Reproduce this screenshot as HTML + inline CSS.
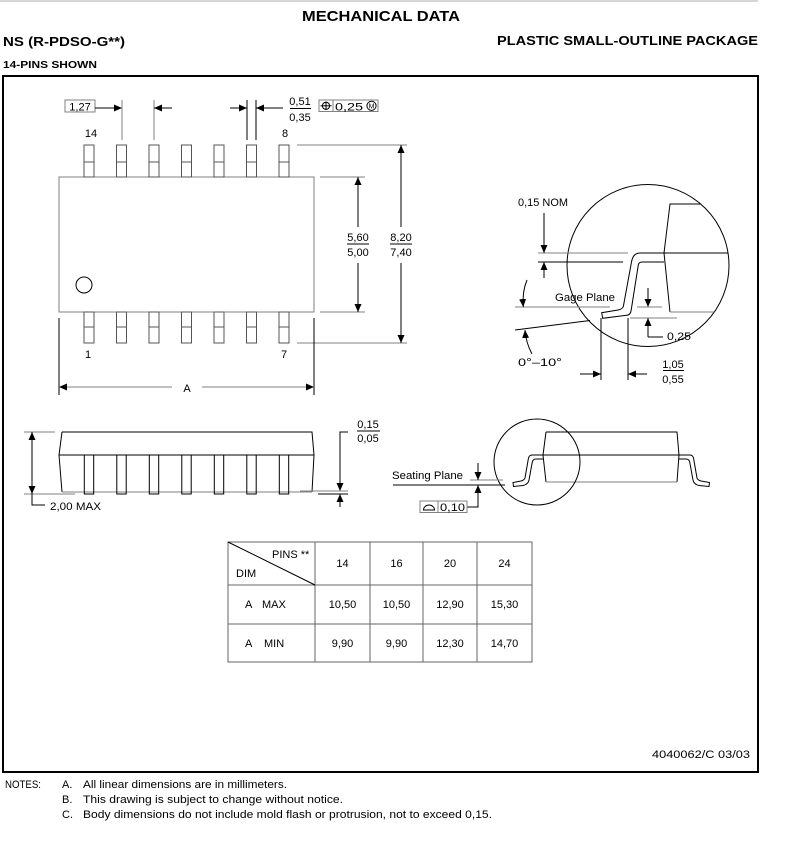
<!DOCTYPE html>
<html><head><meta charset="utf-8"><style>
html,body{margin:0;padding:0;background:#fff;}
svg{display:block;}
text{font-family:"Liberation Sans",sans-serif;font-size:11px;fill:#000;}
.g{stroke:#808080;fill:none;stroke-width:1;}
.k{stroke:#000;fill:none;stroke-width:1;}
.p{stroke:#555;fill:none;stroke-width:1;}
</style></head><body>
<svg width="794" height="854" viewBox="0 0 794 854" xmlns="http://www.w3.org/2000/svg">
<defs>
<marker id="a" markerUnits="userSpaceOnUse" markerWidth="9" markerHeight="8" refX="8" refY="3.5" orient="auto"><path d="M0,0 L8,3.5 L0,7 z" fill="#000"/></marker>
<clipPath id="c1"><circle cx="648" cy="265.5" r="81"/></clipPath>
</defs>
<rect width="794" height="854" fill="#fff"/>

<!-- header -->
<line x1="0" y1="1" x2="758" y2="1" stroke="#c8c8c8" stroke-width="1.5"/>
<text x="302" y="21" style="font-size:15px;font-weight:bold" textLength="158" lengthAdjust="spacingAndGlyphs">MECHANICAL DATA</text>
<text x="3" y="46" style="font-size:13px;font-weight:bold" textLength="122" lengthAdjust="spacingAndGlyphs">NS (R-PDSO-G**)</text>
<text x="497" y="45" style="font-size:13px;font-weight:bold" textLength="261" lengthAdjust="spacingAndGlyphs">PLASTIC SMALL-OUTLINE PACKAGE</text>
<text x="3" y="68" style="font-size:10px;font-weight:bold" textLength="94" lengthAdjust="spacingAndGlyphs">14-PINS SHOWN</text>

<!-- frame -->
<rect x="3" y="76" width="755" height="696" fill="none" stroke="#000" stroke-width="2"/>

<!-- TOP VIEW -->
<rect x="59" y="177" width="255" height="135" class="g"/>
<g class="p">
<rect x="84" y="145" width="10" height="32"/><line x1="84" y1="162" x2="94" y2="162"/>
<rect x="116.5" y="145" width="10" height="32"/><line x1="116.5" y1="162" x2="126.5" y2="162"/>
<rect x="149" y="145" width="10" height="32"/><line x1="149" y1="162" x2="159" y2="162"/>
<rect x="181.5" y="145" width="10" height="32"/><line x1="181.5" y1="162" x2="191.5" y2="162"/>
<rect x="214" y="145" width="10" height="32"/><line x1="214" y1="162" x2="224" y2="162"/>
<rect x="246.5" y="145" width="10" height="32"/><line x1="246.5" y1="162" x2="256.5" y2="162"/>
<rect x="279" y="145" width="10" height="32"/><line x1="279" y1="162" x2="289" y2="162"/>
<rect x="84" y="312" width="10" height="31"/><line x1="84" y1="327" x2="94" y2="327"/>
<rect x="116.5" y="312" width="10" height="31"/><line x1="116.5" y1="327" x2="126.5" y2="327"/>
<rect x="149" y="312" width="10" height="31"/><line x1="149" y1="327" x2="159" y2="327"/>
<rect x="181.5" y="312" width="10" height="31"/><line x1="181.5" y1="327" x2="191.5" y2="327"/>
<rect x="214" y="312" width="10" height="31"/><line x1="214" y1="327" x2="224" y2="327"/>
<rect x="246.5" y="312" width="10" height="31"/><line x1="246.5" y1="327" x2="256.5" y2="327"/>
<rect x="279" y="312" width="10" height="31"/><line x1="279" y1="327" x2="289" y2="327"/>
</g>
<circle cx="84" cy="285" r="8" class="k" stroke="#333"/>
<text x="91" y="137" text-anchor="middle">14</text>
<text x="285" y="137" text-anchor="middle">8</text>
<text x="88" y="358" text-anchor="middle">1</text>
<text x="284" y="358" text-anchor="middle">7</text>

<!-- 1,27 pitch -->
<rect x="65" y="100" width="30" height="12" class="g"/>
<text x="80" y="110.5" text-anchor="middle">1,27</text>
<line x1="95" y1="108" x2="122" y2="108" class="k" marker-end="url(#a)"/>
<line x1="122" y1="100" x2="122" y2="140" class="g"/>
<line x1="154" y1="100" x2="154" y2="140" class="g"/>
<line x1="172" y1="108" x2="154" y2="108" class="k" marker-end="url(#a)"/>
<line x1="247" y1="100" x2="247" y2="140" class="k"/>
<line x1="256" y1="100" x2="256" y2="140" class="k"/>
<line x1="230" y1="108" x2="247" y2="108" class="k" marker-end="url(#a)"/>
<line x1="283" y1="108" x2="256" y2="108" class="k" marker-end="url(#a)"/>
<text x="300" y="105" text-anchor="middle">0,51</text>
<line x1="290" y1="108.5" x2="311" y2="108.5" class="k"/>
<text x="300" y="121" text-anchor="middle">0,35</text>
<rect x="319" y="100" width="59" height="11.5" class="g"/>
<line x1="333" y1="100" x2="333" y2="111.5" class="g"/>
<circle cx="326" cy="105.8" r="3.6" class="k"/>
<line x1="320.5" y1="105.8" x2="331.5" y2="105.8" class="k"/>
<line x1="326" y1="101.5" x2="326" y2="110" class="k"/>
<text x="335" y="110.5" textLength="28" lengthAdjust="spacingAndGlyphs">0,25</text>
<circle cx="371.5" cy="105.8" r="4.6" class="k"/>
<text x="371.5" y="108.5" text-anchor="middle" style="font-size:7px">M</text>

<!-- right dims top view -->
<line x1="297" y1="145" x2="407" y2="145" class="g"/>
<line x1="297" y1="343" x2="407" y2="343" class="g"/>
<line x1="401" y1="227" x2="401" y2="145" class="k" marker-end="url(#a)"/>
<line x1="401" y1="263" x2="401" y2="343" class="k" marker-end="url(#a)"/>
<text x="401" y="241" text-anchor="middle">8,20</text>
<line x1="390" y1="244" x2="412" y2="244" class="k"/>
<text x="401" y="256" text-anchor="middle">7,40</text>
<line x1="320" y1="177" x2="365" y2="177" class="g"/>
<line x1="320" y1="312" x2="365" y2="312" class="g"/>
<line x1="358" y1="227" x2="358" y2="177" class="k" marker-end="url(#a)"/>
<line x1="358" y1="263" x2="358" y2="312" class="k" marker-end="url(#a)"/>
<text x="358" y="241" text-anchor="middle">5,60</text>
<line x1="347" y1="244" x2="369" y2="244" class="k"/>
<text x="358" y="256" text-anchor="middle">5,00</text>

<!-- A dim -->
<line x1="59" y1="318" x2="59" y2="395" class="k"/>
<line x1="314" y1="318" x2="314" y2="395" class="k"/>
<line x1="172" y1="387" x2="59" y2="387" class="g" marker-end="url(#a)"/>
<line x1="202" y1="387" x2="314" y2="387" class="g" marker-end="url(#a)"/>
<text x="187" y="392" text-anchor="middle">A</text>

<!-- DETAIL CIRCLE -->
<circle cx="648" cy="265.5" r="81" class="k"/>
<g clip-path="url(#c1)">
<path d="M705,204 L670,204 L664,253 L670,312" class="k"/>
<line x1="670" y1="312" x2="720" y2="312" class="g"/>
<line x1="640" y1="253" x2="730" y2="253" class="k" stroke="#444"/>
</g>
<line x1="538" y1="253" x2="628" y2="253" class="g"/>
<line x1="538" y1="262" x2="623" y2="262" class="k"/>
<path d="M640,253 Q633,253 631.5,262 L623.3,306.7 Q622,309.3 618,310 L601.7,312.7 L602.7,318.3 L626.7,315.3 Q630.5,315 631.2,310 L638.3,265 Q639,262 642,262 L664,262" class="k"/>
<line x1="544" y1="213" x2="544" y2="253" class="k" marker-end="url(#a)"/>
<line x1="544" y1="278" x2="544" y2="262" class="k" marker-end="url(#a)"/>
<text x="518" y="206" textLength="50" lengthAdjust="spacingAndGlyphs">0,15 NOM</text>
<line x1="515" y1="307" x2="610" y2="307" class="g"/>
<text x="555" y="301" textLength="60" lengthAdjust="spacingAndGlyphs">Gage Plane</text>
<line x1="515" y1="330" x2="590" y2="320.5" class="k"/>
<path d="M527,280 Q522,292 523.3,307" class="k" marker-end="url(#a)"/>
<path d="M532,354 Q526,343 525,330" class="k" marker-end="url(#a)"/>
<text x="518" y="366" textLength="44" lengthAdjust="spacingAndGlyphs">0°–10°</text>
<line x1="648" y1="288" x2="648" y2="307" class="k" marker-end="url(#a)"/>
<line x1="637" y1="307" x2="662" y2="307" class="g"/>
<line x1="630" y1="318" x2="677" y2="318" class="g"/>
<line x1="648" y1="337" x2="648" y2="318" class="k" marker-end="url(#a)"/>
<line x1="648" y1="337" x2="663" y2="337" class="k"/>
<text x="667" y="340" textLength="24" lengthAdjust="spacingAndGlyphs">0,25</text>
<line x1="601" y1="318" x2="601" y2="380" class="k"/>
<line x1="628" y1="318" x2="628" y2="380" class="k"/>
<line x1="580" y1="374" x2="601" y2="374" class="k" marker-end="url(#a)"/>
<line x1="647" y1="374" x2="628" y2="374" class="k" marker-end="url(#a)"/>
<text x="673" y="368" text-anchor="middle">1,05</text>
<line x1="663" y1="370.5" x2="684" y2="370.5" class="k"/>
<text x="673" y="383" text-anchor="middle">0,55</text>

<!-- SIDE VIEW -->
<path d="M62,432 L312,432 L314,455 L312,492 M62,432 L59,455 L62,492" class="k" stroke="#333"/>
<line x1="59" y1="455" x2="314" y2="455" class="k" stroke="#333"/>
<line x1="62" y1="492" x2="312" y2="492" class="g"/>
<g class="k">
<rect x="84.3" y="455" width="9.4" height="39"/>
<rect x="116.8" y="455" width="9.4" height="39"/>
<rect x="149.3" y="455" width="9.4" height="39"/>
<rect x="181.8" y="455" width="9.4" height="39"/>
<rect x="214.3" y="455" width="9.4" height="39"/>
<rect x="246.8" y="455" width="9.4" height="39"/>
<rect x="279.3" y="455" width="9.4" height="39"/>
</g>
<line x1="24" y1="432" x2="55" y2="432" class="g"/>
<line x1="24" y1="494" x2="75" y2="494" class="g"/>
<line x1="32" y1="463" x2="32" y2="432" class="k" marker-end="url(#a)"/>
<line x1="32" y1="463" x2="32" y2="494" class="k" marker-end="url(#a)"/>
<path d="M32,494 L32,505 L45,505" class="k"/>
<text x="50" y="510" textLength="51" lengthAdjust="spacingAndGlyphs">2,00 MAX</text>
<path d="M348,432 L340,432 L340,491" class="k" marker-end="url(#a)"/>
<line x1="300" y1="491" x2="348" y2="491" class="g"/>
<line x1="318" y1="494" x2="348" y2="494" class="k"/>
<line x1="340" y1="507" x2="340" y2="494" class="k" marker-end="url(#a)"/>
<text x="368" y="428" text-anchor="middle">0,15</text>
<line x1="357" y1="431" x2="380" y2="431" class="k"/>
<text x="368" y="442" text-anchor="middle">0,05</text>

<!-- SEATING PLANE DETAIL -->
<path d="M546,432 L677,432 L679,455 L677,482 M546,432 L543,455 L546,482" class="k"/>
<line x1="543" y1="455" x2="679" y2="455" class="k"/>
<line x1="546" y1="482" x2="677" y2="482" class="g"/>
<path d="M543,455 L532,455 Q529,455 528.3,459 L525,478 Q524.5,480 521,481 L513,482.5 L513.5,486.5 L523,485.5 Q528,484.5 529,480 L532.3,462 Q533,459 536,459 L543,459" class="k"/>
<path d="M679,455 L690,455 Q693,455 693.7,459 L697,478 Q697.5,480 701,481 L709.5,482.5 L709,486.5 L699,485.5 Q694,484.5 693,480 L689.7,462 Q689,459 686,459 L679,459" class="k"/>
<circle cx="537" cy="462" r="43" class="k"/>
<line x1="393" y1="485" x2="505" y2="485" class="k"/>
<line x1="470" y1="480" x2="503" y2="480" class="g"/>
<line x1="478" y1="463" x2="478" y2="480" class="k" marker-end="url(#a)"/>
<line x1="478" y1="502" x2="478" y2="485" class="k" marker-end="url(#a)"/>
<path d="M478,500 L478,507 L467,507" class="k"/>
<text x="392" y="479" textLength="71" lengthAdjust="spacingAndGlyphs">Seating Plane</text>
<rect x="420" y="501" width="47" height="11.5" class="g"/>
<line x1="438" y1="501" x2="438" y2="512.5" class="g"/>
<path d="M423,510 L435,510 M423.5,510 A5.5,5 0 0 1 434.5,510" class="k"/>
<text x="440" y="511" textLength="25" lengthAdjust="spacingAndGlyphs">0,10</text>

<!-- TABLE -->
<g stroke="#666" stroke-width="1" fill="none">
<rect x="228" y="542" width="304" height="120"/>
<line x1="228" y1="585" x2="532" y2="585"/>
<line x1="228" y1="624" x2="532" y2="624"/>
<line x1="315" y1="542" x2="315" y2="662"/>
<line x1="370" y1="542" x2="370" y2="662"/>
<line x1="423" y1="542" x2="423" y2="662"/>
<line x1="477" y1="542" x2="477" y2="662"/>
<line x1="228" y1="542" x2="315" y2="585" stroke="#000"/>
</g>
<text x="272" y="558">PINS **</text>
<text x="236" y="577">DIM</text>
<text x="342.5" y="567" text-anchor="middle">14</text>
<text x="396.5" y="567" text-anchor="middle">16</text>
<text x="450" y="567" text-anchor="middle">20</text>
<text x="504.5" y="567" text-anchor="middle">24</text>
<text x="245" y="608">A</text><text x="262" y="608">MAX</text>
<text x="342.5" y="608" text-anchor="middle">10,50</text>
<text x="396.5" y="608" text-anchor="middle">10,50</text>
<text x="450" y="608" text-anchor="middle">12,90</text>
<text x="504.5" y="608" text-anchor="middle">15,30</text>
<text x="245" y="647">A</text><text x="264" y="647">MIN</text>
<text x="342.5" y="647" text-anchor="middle">9,90</text>
<text x="396.5" y="647" text-anchor="middle">9,90</text>
<text x="450" y="647" text-anchor="middle">12,30</text>
<text x="504.5" y="647" text-anchor="middle">14,70</text>

<!-- footer id -->
<text x="652" y="758" textLength="98" lengthAdjust="spacingAndGlyphs">4040062/C 03/03</text>

<!-- NOTES -->
<text x="5" y="788" textLength="36" lengthAdjust="spacingAndGlyphs">NOTES:</text>
<text x="62" y="788">A.</text>
<text x="83" y="788" textLength="204" lengthAdjust="spacingAndGlyphs">All linear dimensions are in millimeters.</text>
<text x="62" y="803">B.</text>
<text x="83" y="803" textLength="260" lengthAdjust="spacingAndGlyphs">This drawing is subject to change without notice.</text>
<text x="62" y="818">C.</text>
<text x="83" y="818" textLength="409" lengthAdjust="spacingAndGlyphs">Body dimensions do not include mold flash or protrusion, not to exceed 0,15.</text>
</svg>
</body></html>
